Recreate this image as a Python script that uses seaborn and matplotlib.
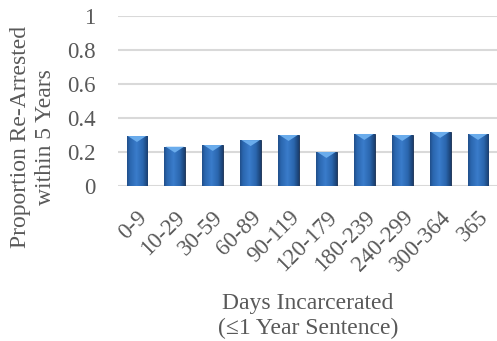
import numpy as np
import pandas as pd
import matplotlib
matplotlib.use("Agg")
import matplotlib.pyplot as plt
from matplotlib.patches import Polygon
import seaborn as sns

# data
categories = ["0-9", "10-29", "30-59", "60-89", "90-119", "120-179",
              "180-239", "240-299", "300-364", "365"]
proportions = [0.294, 0.231, 0.241, 0.27, 0.30, 0.20, 0.306, 0.30, 0.318, 0.306]
y_ticks = [0, 0.2, 0.4, 0.6, 0.8, 1]
y_tick_labels = ["0", "0.2", "0.4", "0.6", "0.8", "1"]

df = pd.DataFrame({"days": categories, "prop": proportions})

sns.set_theme(style="white")
plt.rcParams["font.family"] = ["Liberation Serif", "DejaVu Serif"]
text_color = "#595959"

fig = plt.figure(figsize=(4.97, 3.41), dpi=100)
ax = fig.add_axes([118 / 497, 1 - 186 / 341, 1 - 118 / 497, 170 / 341])

sns.barplot(data=df, x="days", y="prop", color="#2E6CB5", width=0.55,
            saturation=1, ax=ax, zorder=3)

ax.set_ylim(0, 1)
ax.set_yticks(y_ticks)
ax.set_yticklabels(y_tick_labels)
ax.yaxis.grid(True, color="#D9D9D9", linewidth=1.5, zorder=0)
ax.xaxis.grid(False)
for s in ax.spines.values():
    s.set_visible(False)
ax.tick_params(axis="both", length=0, colors=text_color, labelsize=16.5)
ax.tick_params(axis="y", pad=16)
ax.tick_params(axis="x", pad=15)
for lab in ax.get_xticklabels():
    lab.set_rotation(45)
    lab.set_ha("right")
    lab.set_va("top")
    lab.set_rotation_mode("anchor")
ax.set_xlabel("")
ax.set_ylabel("")

# shaded look on each bar: horizontal gradient plus a lighter top wedge
grad = np.linspace(0, 1, 64)
shade = 1 - np.abs(grad - 0.45) * 1.6
cmap = matplotlib.colors.LinearSegmentedColormap.from_list(
    "barshade", ["#15325C", "#2A66AE", "#3A7CCB"])
for p in list(ax.patches):
    x0, y0 = p.get_x(), p.get_y()
    w, h = p.get_width(), p.get_height()
    im = ax.imshow(shade[np.newaxis, :], cmap=cmap, aspect="auto",
                   extent=[x0, x0 + w, y0, y0 + h], zorder=3.5,
                   vmin=0, vmax=1)
    im.set_clip_path(p)
    depth = 0.035
    tri = Polygon([[x0 + 0.06 * w, y0 + h], [x0 + 0.94 * w, y0 + h],
                   [x0 + w / 2, y0 + h - depth]], closed=True,
                  facecolor="#6AACEC", edgecolor="none", zorder=4)
    ax.add_patch(tri)
    p.set_edgecolor("#13294A")
    p.set_linewidth(0.6)
ax.set_xlim(-0.5, len(categories) - 0.5)
ax.set_ylim(0, 1)

fig.text(33 / 497, 1 - 137 / 341, "Proportion Re-Arrested\nwithin 5 Years",
         rotation=90, ha="center", va="center", multialignment="center",
         fontsize=17, color=text_color, linespacing=1.2)
fig.text(308 / 497, 1 - 316 / 341, "Days Incarcerated\n(\u22641 Year Sentence)",
         ha="center", va="center", multialignment="center",
         fontsize=17, color=text_color, linespacing=1.2)

fig.savefig("out.png", dpi=100)
